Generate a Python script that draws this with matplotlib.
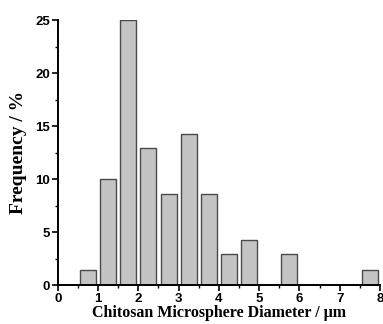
import numpy as np
import matplotlib.pyplot as plt
from matplotlib.ticker import MultipleLocator

# ----------------------------
# Data (bin centres in um, frequency in %)
# ----------------------------
diameter = [0.75, 1.25, 1.75, 2.25, 2.75, 3.25, 3.75, 4.25, 4.75, 5.25, 5.75, 6.25, 6.75, 7.25, 7.75]
frequency = [1.4, 10.0, 25.0, 12.9, 8.6, 14.3, 8.6, 2.9, 4.3, 0.0, 2.9, 0.0, 0.0, 0.0, 1.4]

fig = plt.figure(figsize=(3.83, 3.24), dpi=100)
ax = fig.add_axes([0.151, 0.120, 0.841, 0.818])

ax.bar(diameter, frequency, width=0.4, color="#c4c4c4",
       edgecolor="#4a4a4a", linewidth=1.0, zorder=2)

ax.set_xlim(0, 8)
ax.set_ylim(0, 25)
ax.xaxis.set_major_locator(MultipleLocator(1))
ax.xaxis.set_minor_locator(MultipleLocator(0.5))
ax.yaxis.set_major_locator(MultipleLocator(5))
ax.yaxis.set_minor_locator(MultipleLocator(2.5))

for s in ["top", "right"]:
    ax.spines[s].set_visible(False)
for s in ["left", "bottom"]:
    ax.spines[s].set_linewidth(1.4)

ax.tick_params(which="major", direction="out", length=4, width=1.2, pad=1.5,
               labelsize=9.5)
ax.tick_params(which="minor", direction="out", length=2.5, width=1.0)
for lab in ax.get_xticklabels() + ax.get_yticklabels():
    lab.set_fontfamily("Liberation Sans")
    lab.set_fontweight("bold")

ax.set_xlabel("Chitosan Microsphere Diameter / \u03bcm", fontsize=11.5,
              fontfamily="Liberation Serif", fontweight="bold", labelpad=0)
ax.set_ylabel("Frequency / %", fontsize=14,
              fontfamily="Liberation Serif", fontweight="bold", labelpad=6)

fig.savefig("out.png", dpi=100)
